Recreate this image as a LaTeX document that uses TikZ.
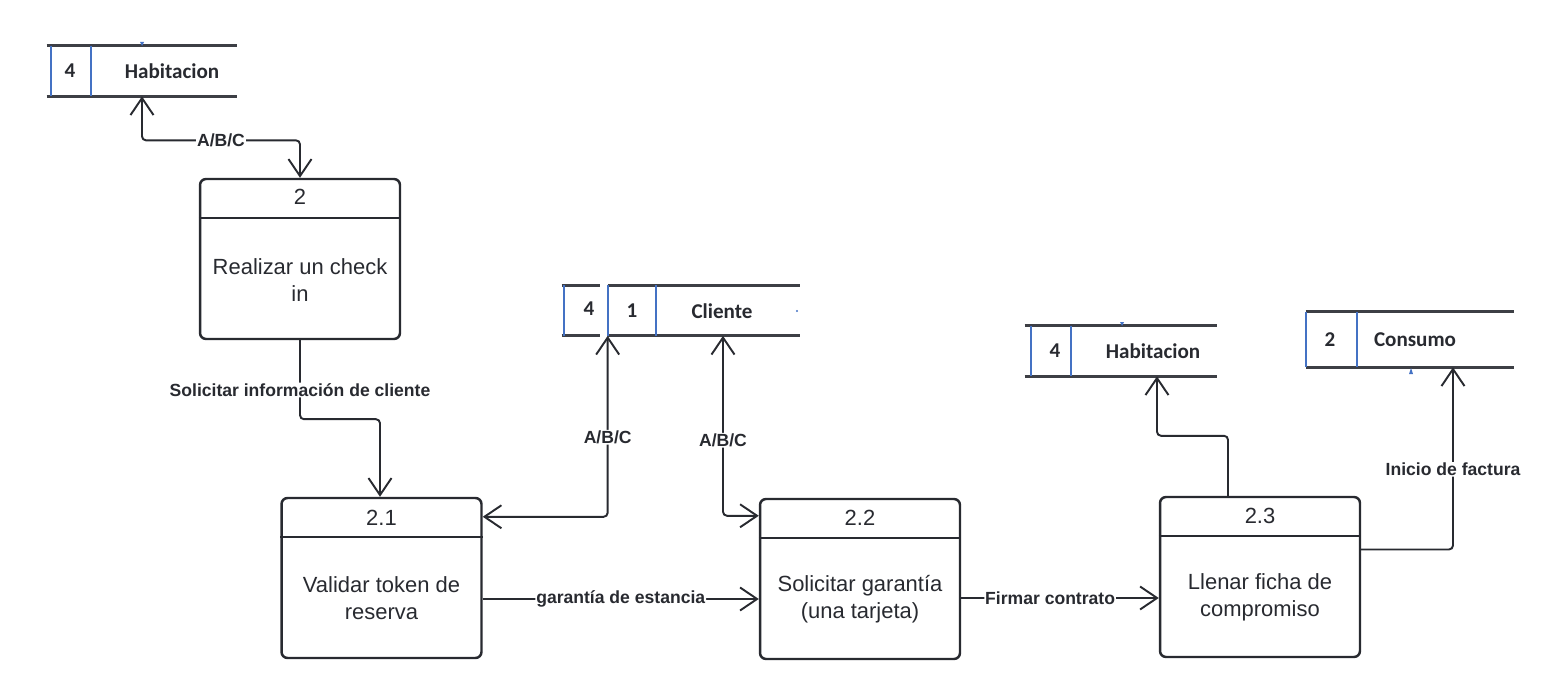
\documentclass[tikz,border=0pt]{standalone}
\usepackage{fontspec}
\setmainfont{Liberation Sans}
\newfontfamily\storefont{Carlito}
\usetikzlibrary{arrows.meta}
\definecolor{ink}{RGB}{40,42,48}
\definecolor{storeblue}{RGB}{68,114,196}

\begin{document}
\begin{tikzpicture}[x=0.02cm, y=-0.02cm]
		\tikzset{
			proc/.style={
				draw=ink,
				line width=1.4pt,
				rounded corners=0.12cm,
				minimum width=4cm,
				minimum height=3.2cm
			},
			header/.style={
				draw=ink,
				line width=1.4pt
			},
			procnum/.style={
				text=ink,
				font=\fontsize{12.5}{14}\selectfont
			},
			proctext/.style={
				text=ink,
				align=center,
				font=\fontsize{12.5}{15.5}\selectfont
			},
			store/.style={
				minimum height=1cm,
				inner sep=0pt
			},
			storeline/.style={
				draw=ink!90,
				line width=1.6pt
			},
			bluebar/.style={
				draw=storeblue,
				line width=1.1pt
			},
			storetext/.style={
				text=ink,
				font=\storefont\bfseries\fontsize{12}{14}\selectfont
			},
			flow/.style={
				draw=ink,
				line width=1.1pt,
				rounded corners=0.08cm,
				-{Straight Barb[length=3.4mm,width=4.6mm]}
			},
			both/.style={
				flow,
				{Straight Barb[length=3.4mm,width=4.6mm]}-{Straight Barb[length=3.4mm,width=4.6mm]}
			},
			flowlabel/.style={
				fill=white,
				inner sep=0.5pt,
				text=ink,
				font=\bfseries\fontsize{10}{12}\selectfont
			}
		}
		\useasboundingbox (0,0) rectangle (1562,699);

		% data stores
		\node[store, minimum width=3.8cm] (hab1) at (142,71) {};
		\draw[storeline] (hab1.north west) -- (hab1.north east)
			(hab1.south west) -- (hab1.south east);
		\draw[bluebar] ([xshift=0.08cm]hab1.north west) -- ([xshift=0.08cm]hab1.south west)
			([xshift=0.88cm]hab1.north west) -- ([xshift=0.88cm]hab1.south west);
		\fill[storeblue] (140,42) -- (144,42) -- (142,46) -- cycle;
		\node[storetext] (hab1-id) at (70,71) {4};
		\node[storetext] (hab1-name) at (172,71) {Habitacion};

		\node[store, minimum width=0.76cm] (cli4) at (581,310.5) {};
		\node[store, minimum width=3.84cm] (cli) at (704,310.5) {};
		\draw[storeline] (cli4.north west) -- (cli4.north east)
			(cli4.south west) -- (cli4.south east)
			(cli.north west) -- (cli.north east)
			(cli.south west) -- (cli.south east);
		\draw[bluebar] ([xshift=0.04cm]cli4.north west) -- ([xshift=0.04cm]cli4.south west)
			(cli.north west) -- (cli.south west)
			([xshift=0.96cm]cli.north west) -- ([xshift=0.96cm]cli.south west);
		\fill[storeblue] (797,311) circle (1.2);
		\node[storetext] (cli4-id) at (589,309) {4};
		\node[storetext] (cli-id) at (632,311) {1};
		\node[storetext] (cli-name) at (722,311) {Cliente};

		\node[store, minimum width=3.84cm] (hab2) at (1121,351) {};
		\draw[storeline] (hab2.north west) -- (hab2.north east)
			(hab2.south west) -- (hab2.south east);
		\draw[bluebar] ([xshift=0.12cm]hab2.north west) -- ([xshift=0.12cm]hab2.south west)
			([xshift=0.92cm]hab2.north west) -- ([xshift=0.92cm]hab2.south west);
		\fill[storeblue] (1120,322) -- (1124,322) -- (1122,326) -- cycle;
		\node[storetext] (hab2-id) at (1055,351) {4};
		\node[storetext] (hab2-name) at (1153,351) {Habitacion};

		\node[store, minimum width=4.16cm, minimum height=1.1cm] (con) at (1410,339.5) {};
		\draw[storeline] (con.north west) -- (con.north east)
			(con.south west) -- (con.south east);
		\draw[bluebar] (con.north west) -- (con.south west)
			([xshift=1.02cm]con.north west) -- ([xshift=1.02cm]con.south west);
		\fill[storeblue] (1409,374) -- (1413,374) -- (1411,368) -- cycle;
		\node[storetext] (con-id) at (1330,340) {2};
		\node[storetext] (con-name) at (1415,340) {Consumo};

		% processes
		\node[proc] (p2) at (300,259) {};
		\draw[header] ([yshift=-0.8cm]p2.north west) -- ([yshift=-0.8cm]p2.north east);
		\node[procnum] (p2-num) at ([yshift=-0.38cm]p2.north) {2};
		\node[proctext] (p2-text) at ([yshift=-0.42cm]p2.center) {Realizar un check\\in};

		\node[proc] (p21) at (381.5,578) {};
		\draw[header] ([yshift=-0.8cm]p21.north west) -- ([yshift=-0.8cm]p21.north east);
		\node[procnum] (p21-num) at ([yshift=-0.42cm]p21.north) {2.1};
		\node[proctext] (p21-text) at ([yshift=-0.4cm]p21.center) {Validar token de\\reserva};

		\node[proc] (p22) at (860,579) {};
		\draw[header] ([yshift=-0.8cm]p22.north west) -- ([yshift=-0.8cm]p22.north east);
		\node[procnum] (p22-num) at ([yshift=-0.4cm]p22.north) {2.2};
		\node[proctext] (p22-text) at ([yshift=-0.4cm]p22.center) {Solicitar garantía\\(una tarjeta)};

		\node[proc] (p23) at (1260,577) {};
		\draw[header] ([yshift=-0.8cm]p23.north west) -- ([yshift=-0.8cm]p23.north east);
		\node[procnum] (p23-num) at ([yshift=-0.4cm]p23.north) {2.3};
		\node[proctext] (p23-text) at ([yshift=-0.4cm]p23.center) {Llenar ficha de\\compromiso};

		% flows
		\draw[both] (hab1.south) -- ++(0,44) -| (p2.north)
			node[flowlabel, pos=0.25] {A/B/C};
		\draw[flow] (p2.south) -- ++(0,79)
			node[flowlabel, pos=0.63] {Solicitar información de cliente}
			-| ([xshift=-0.03cm]p21.north);
		\draw[both] ([yshift=-0.4cm]p21.north east) -| (cli.south west)
			node[flowlabel, pos=0.72] {A/B/C};
		\draw[both] ([xshift=0.38cm]cli.south) |- ([yshift=-0.36cm]p22.north west)
			node[flowlabel, pos=0.29] {A/B/C};
		\draw[flow] ([yshift=-0.42cm]p21.east) -- ([yshift=-0.42cm]p21.east -| p22.west)
			node[flowlabel, pos=0.5] {garantía de estancia};
		\draw[flow] ([yshift=-0.38cm]p22.east) -- ([yshift=-0.38cm]p22.east -| p23.west)
			node[flowlabel, pos=0.45] {Firmar contrato};
		\draw[flow] ([xshift=-0.64cm]p23.north) -- ++(0,-60) -| ([xshift=0.72cm]hab2.south);
		\draw[flow] ([yshift=0.55cm]p23.east) -| ([xshift=0.86cm]con.south)
			node[flowlabel, pos=0.72] {Inicio de factura};

	\end{tikzpicture}
\end{document}
